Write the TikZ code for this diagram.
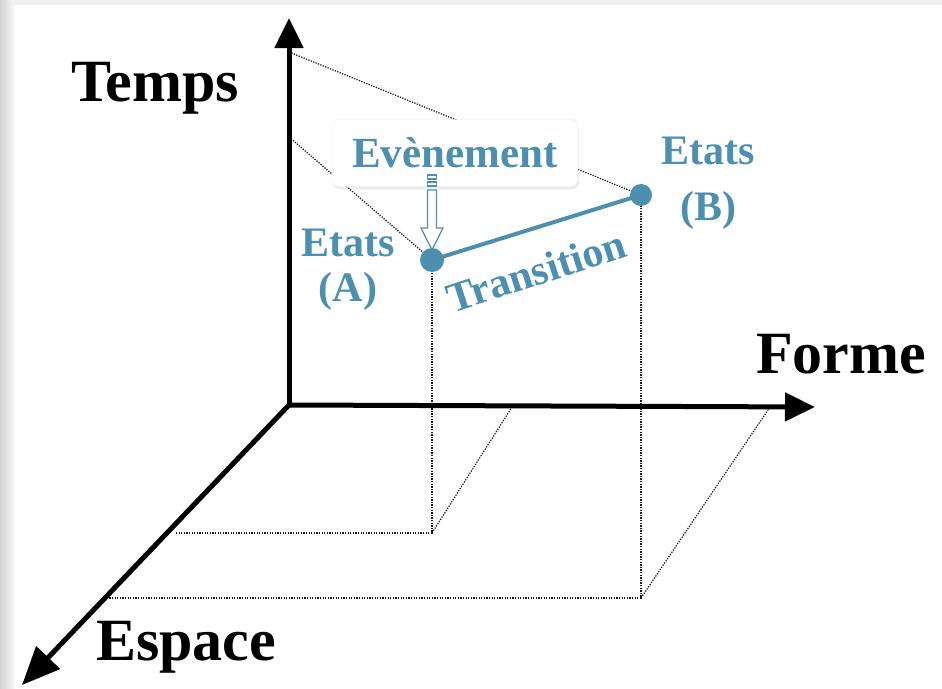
\documentclass[tikz,border=0pt]{standalone}
\usepackage{fontspec}
\setmainfont{Liberation Serif}
\usepackage{xcolor}
\usepackage{tikz}
\usetikzlibrary{arrows.meta, shadows, calc}

\definecolor{etatblue}{RGB}{76,143,175}

\begin{document}
\begin{tikzpicture}[x=1pt, y=-1pt]
    % Define styles
    \tikzstyle{axis} = [line width=5pt, -{Triangle[length=30pt, width=28pt]}]
    \tikzstyle{proj} = [line width=1.2pt, black!90, dash pattern=on 1.3pt off 1.3pt]
    \tikzstyle{axislabel} = [font=\fontsize{60}{60}\selectfont\bfseries, inner sep=0pt, anchor=base]
    \tikzstyle{bluelabel} = [font=\fontsize{42}{50}\selectfont\bfseries, text=etatblue, align=center, inner sep=0pt]
    \tikzstyle{etat} = [circle, fill=etatblue, inner sep=0pt, minimum size=24pt]
    \tikzstyle{evtbox} = [rectangle, rounded corners=7pt, fill=white, draw=gray!15, drop shadow={opacity=0.15, shadow xshift=1pt, shadow yshift=-3pt}, minimum width=246pt, minimum height=67pt, font=\fontsize{43}{43}\selectfont\bfseries, text=etatblue]
    \tikzstyle{evtarrow} = [draw=etatblue, fill=white, line width=1.3pt]

    \useasboundingbox (0,0) rectangle (942,688);
    \shade[left color=gray!35, right color=gray!6] (0,0) rectangle (14,688);
    \fill[gray!12] (14,0) rectangle (942,5);

    % Points
    \coordinate (O) at (289,405);
    \coordinate (pA) at (432,260);
    \coordinate (pB) at (641,195);
    \coordinate (tA) at (289,137);
    \coordinate (tB) at (289,52);
    \coordinate (gA) at (432,533);
    \coordinate (gB) at (641,598);
    \coordinate (fA) at (512,407);
    \coordinate (fB) at (770,407);
    \coordinate (eA) at (176,533);
    \coordinate (eB) at (108,598);

    % Projections
    \draw[proj] (tB) -- (pB);
    \draw[proj] (tA) -- (pA);
    \draw[proj] (pA) -- (gA) -- (eA);
    \draw[proj] (gA) -- (fA);
    \draw[proj] (pB) -- (gB) -- (eB);
    \draw[proj] (gB) -- (fB);

    % Axes
    \draw[axis] (O) -- (289,18) coordinate (temps);
    \draw[axis] (O) -- (815,407) coordinate (forme);
    \draw[axis, -{Triangle[length=38pt, width=32pt]}] (O) -- (22,685) coordinate (espace);

    \node[axislabel] (ltemps) at (155,101) {Temps};
    \node[axislabel] (lforme) at (841,373) {Forme};
    \node[axislabel] (lespace) at (186,660) {Espace};

    % Event
    \node[evtbox] (evt) at (455,153) {Evènement};
    \draw[evtarrow] (427.5,190) -- (436.5,190) -- (436.5,228) -- (443,228) -- (432,250) -- (421,228) -- (427.5,228) -- cycle;
    \draw[evtarrow] (427.5,175) rectangle (436.5,179);
    \draw[evtarrow] (427.5,182) rectangle (436.5,186);

    % States and transition
    \draw[etatblue, line width=4pt] (pA) -- (pB);
    \node[etat] (A) at (pA) {};
    \node[etat, minimum size=22pt] (B) at (pB) {};

    \node[bluelabel, font=\fontsize{42}{45}\selectfont\bfseries] (lA) at (348,270) {Etats\\(A)};
    \node[bluelabel, font=\fontsize{42}{56}\selectfont\bfseries] (lB) at (708,183) {Etats\\(B)};
    \node[bluelabel, rotate=18] (ltrans) at (536,271) {Transition};

\end{tikzpicture}
\end{document}
